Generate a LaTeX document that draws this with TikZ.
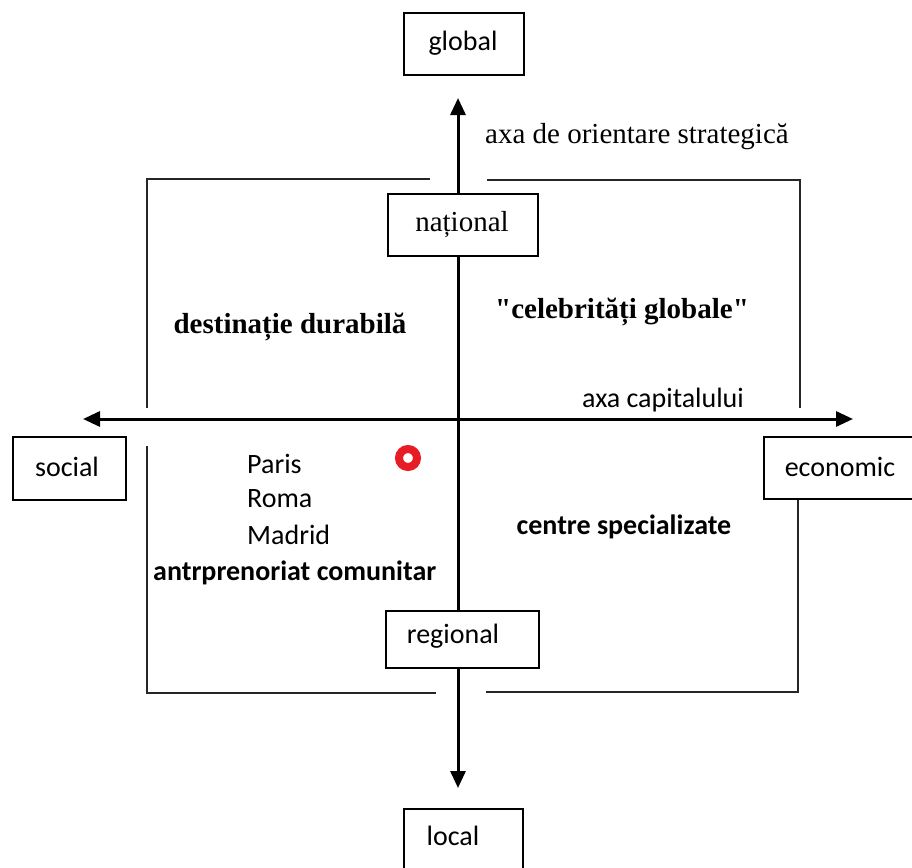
\documentclass[tikz,border=0pt]{standalone}
\usepackage{fontspec}
\setmainfont{Liberation Serif}
\setsansfont{Carlito}
\usetikzlibrary{arrows.meta}
\definecolor{markred}{RGB}{232,28,36}
\begin{document}
\begin{tikzpicture}[x=1pt,y=-1pt,
  axisline/.style={line width=3pt,-{Triangle[length=17pt,width=15pt]}},
  frameline/.style={line width=1.6pt,draw=black!85},
  levelbox/.style={draw,line width=1.6pt,fill=white,inner sep=0pt,anchor=north west},
  sanslabel/.style={font=\sffamily\fontsize{28}{34}\selectfont,inner sep=0pt},
  seriflabel/.style={font=\fontsize{29}{34}\selectfont,inner sep=0pt},
  boldserif/.style={font=\bfseries\fontsize{29}{34}\selectfont,inner sep=0pt},
  boldsans/.style={font=\sffamily\bfseries\fontsize{28}{34}\selectfont,inner sep=0pt}]
\useasboundingbox (0,0) rectangle (912,867);

% axis end points and crossing
\coordinate (origin) at (458,419);
\coordinate (vtop) at (458,98);
\coordinate (vbot) at (458,788);
\coordinate (hleft) at (83,419);
\coordinate (hright) at (853,419);

% quadrant frame, open where the axes pass
\draw[frameline] (430,179) -- (147,179) -- (147,408);
\draw[frameline] (147,446) -- (147,693) -- (436,693);
\draw[frameline] (487,180) -- (800,180) -- (800,408);
\draw[frameline] (798,498) -- (798,692) -- (486,692);

% the two axes
\draw[axisline] (origin) -- (vtop);
\draw[axisline] (origin) -- (vbot);
\draw[axisline] (origin) -- (hleft);
\draw[axisline] (origin) -- (hright);

% level boxes
\node[levelbox,minimum width=120pt,minimum height=62pt] (global) at (403,12) {};
\node[sanslabel] (globaltxt) at (463,43) {global};
\node[levelbox,minimum width=150pt,minimum height=62pt] (national) at (387,193) {};
\node[seriflabel] (nationaltxt) at (462,225) {național};
\node[levelbox,minimum width=113pt,minimum height=63pt] (social) at (12,436) {};
\node[sanslabel] (socialtxt) at (67,467) {social};
\node[levelbox,minimum width=150pt,minimum height=62pt] (economic) at (763,436) {};
\node[sanslabel] (economictxt) at (840,467) {economic};
\node[levelbox,minimum width=153pt,minimum height=57pt] (regional) at (385,610) {};
\node[sanslabel] (regionaltxt) at (453,636) {regional};
\node[levelbox,minimum width=119pt,minimum height=70pt] (local) at (403,808) {};
\node[sanslabel] (localtxt) at (453,836) {local};

% axis labels
\node[seriflabel,anchor=west] (stratlabel) at (485,137) {axa de orientare strategică};
\node[sanslabel] (caplabel) at (663,400) {axa capitalului};

% quadrant texts
\node[boldserif] (durabila) at (290,327) {destinație durabilă};
\node[boldserif] (celebritati) at (622,312) {\addfontfeatures{Ligatures=TeXOff}"celebrități globale"};
\node[boldsans] (centre) at (624,527) {centre specializate};
\node[sanslabel,anchor=west] (paris) at (247,464) {Paris};
\node[sanslabel,anchor=west] (roma) at (247,499) {Roma};
\node[sanslabel,anchor=west] (madrid) at (247,535) {Madrid};
\node[boldsans,anchor=west] (antr) at (153,573) {antrprenoriat comunitar};

% marker
\draw[markred,line width=8pt] (408,458) circle (9pt);
\end{tikzpicture}
\end{document}
